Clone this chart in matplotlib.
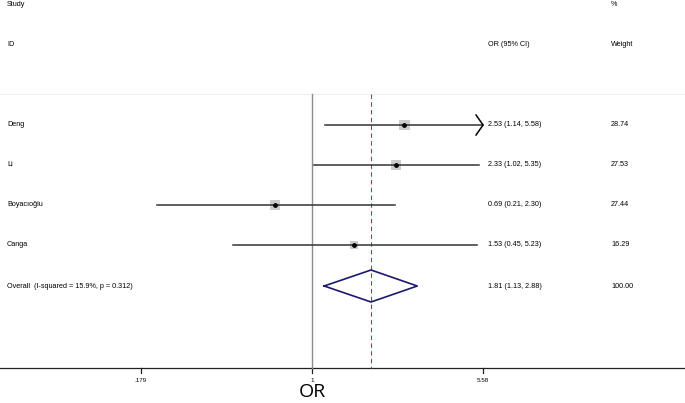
import numpy as np
import matplotlib
matplotlib.use("Agg")
import matplotlib.pyplot as plt
from matplotlib.transforms import blended_transform_factory

# forest plot data
studies = ["Deng", "Li", "Boyacıoğlu", "Canga"]
or_est = [2.53, 2.33, 0.69, 1.53]
ci_low = [1.14, 1.02, 0.21, 0.45]
ci_high = [5.58, 5.35, 2.30, 5.23]
weights = [28.74, 27.53, 27.44, 16.29]
overall_label = "Overall  (I-squared = 15.9%, p = 0.312)"
overall = 1.81
overall_low = 1.13
overall_high = 2.88
tick_vals = [0.179, 1, 5.58]
tick_labels = [".179", "1", "5.58"]

W, H = 685, 403
fig = plt.figure(figsize=(W / 100, H / 100), dpi=100)
ax = fig.add_axes([0, 0, 1, 1])
ax.set_xscale("log")
px_per_ln = 99.5
x0 = 312
ax.set_xlim(np.exp(-x0 / px_per_ln), np.exp((W - x0) / px_per_ln))
ax.set_ylim(H, 0)
ax.axis("off")

font = ["Liberation Sans", "DejaVu Sans"]
fs = 5.2
tr = blended_transform_factory(ax.transAxes, ax.transData)

def col_text(x, y, s):
    ax.text(x / W, y, s, fontsize=fs, family=font, va="center", transform=tr)

# header
col_text(7, 4, "Study")
col_text(7, 44, "ID")
col_text(611, 4, "%")
col_text(488, 44, "OR (95% CI)")
col_text(611, 44, "Weight")

# top border and axis
ax.plot([0, 1], [94, 94], color="#f0f0f0", lw=0.8, transform=tr)
ax.plot([0, 1], [368, 368], color="#222222", lw=0.9, transform=tr)
for v, lab in zip(tick_vals, tick_labels):
    ax.plot([v, v], [368, 373], color="#222222", lw=0.9)
    ax.text(v, 381, lab, fontsize=4.5, family=font, ha="center", va="center")
ax.text(1, 392, "OR", fontsize=14, family=["Open Sans", "DejaVu Sans"], ha="center", va="center")

# null line and overall line
ax.plot([1, 1], [94, 368], color="#8c8c8c", lw=1.0)
ax.plot([overall, overall], [94, 368], color="#b03a3a", lw=0.8, dashes=(4, 3))

rows_y = [125, 165, 205, 245]
xmax = tick_vals[-1]
for name, est, lo, hi, w, y in zip(studies, or_est, ci_low, ci_high, weights, rows_y):
    col_text(7, y, name)
    col_text(488, y, f"{est:.2f} ({lo:.2f}, {hi:.2f})")
    col_text(611, y, f"{w:.2f}")
    side = np.sqrt(w) * 1.45
    ax.scatter([est], [y], marker="s", s=side ** 2, color="#cccccc", edgecolors="none", zorder=2)
    ax.plot([lo, min(hi, xmax)], [y, y], color="#333333", lw=1.1, zorder=3)
    ax.scatter([est], [y], marker="o", s=6, color="black", zorder=4)
    if hi >= xmax:
        back = np.exp(np.log(xmax) - 7 / px_per_ln)
        ax.plot([back, xmax, back], [y - 10, y, y + 10], color="black", lw=1.1, zorder=3)

# overall diamond
oy = 286
col_text(7, oy, overall_label)
col_text(488, oy, f"{overall:.2f} ({overall_low:.2f}, {overall_high:.2f})")
col_text(611, oy, "100.00")
ax.plot([overall_low, overall, overall_high, overall, overall_low],
        [oy, oy - 16, oy, oy + 16, oy], color="#1a1a6e", lw=1.2, zorder=3)

fig.savefig("out.png", dpi=100)
